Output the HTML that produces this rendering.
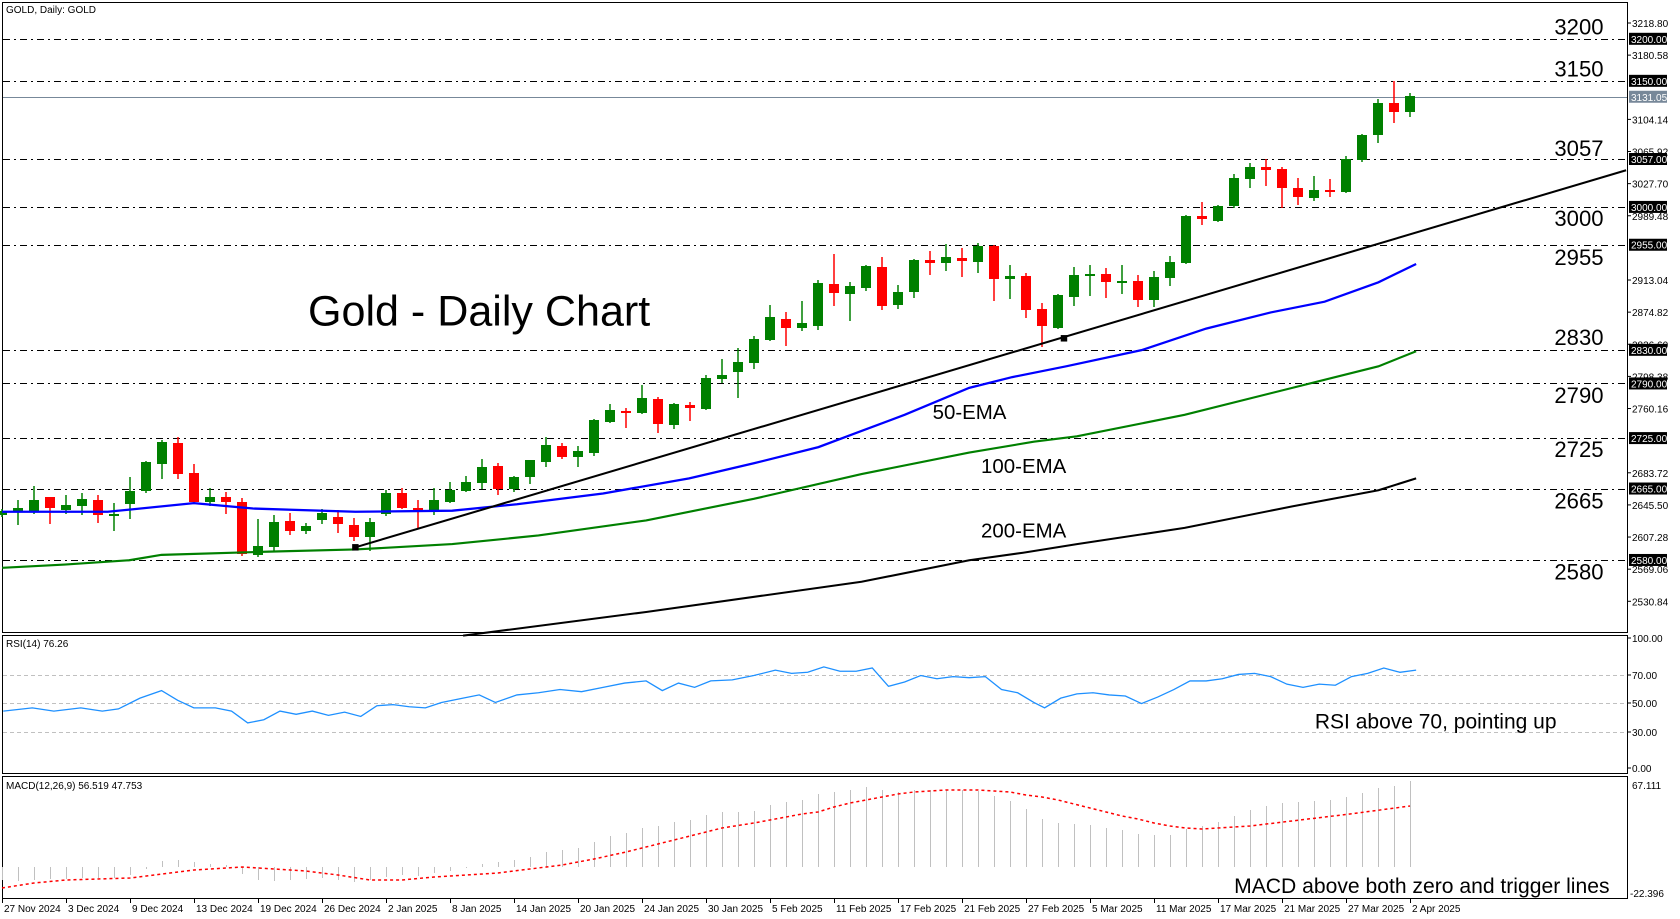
<!DOCTYPE html>
<html><head><meta charset="utf-8"><style>
html,body{margin:0;padding:0;background:#fff;width:1680px;height:919px;overflow:hidden}
svg{display:block}
text{font-family:"Liberation Sans",sans-serif}
</style></head><body>
<svg id="s" width="1680" height="919" viewBox="0 0 1680 919" xmlns="http://www.w3.org/2000/svg"></svg>
<script>
const S=document.getElementById('s');let h='';
const Y=p=>38.8+(3200-p)*0.8406;
h+='<rect x="2.5" y="2.5" width="1625" height="630" fill="none" stroke="#000"/>';
h+='<rect x="2.5" y="635.5" width="1625" height="138" fill="none" stroke="#000"/>';
h+='<rect x="2.5" y="776.5" width="1625" height="122" fill="none" stroke="#000"/>';
h+='<text x="6" y="13" font-size="10">GOLD, Daily:  GOLD</text>';
const lv=[3200,3150,3057,3000,2955,2830,2790,2725,2665,2580];
lv.forEach(p=>{const y=Math.round(Y(p))+0.5;h+=`<line x1="3" x2="1627" y1="${y}" y2="${y}" stroke="#000" stroke-dasharray="7,4,2,4"/>`;});
const yc=Math.round(Y(3131.05))+0.5;
h+=`<line x1="3" x2="1627" y1="${yc}" y2="${yc}" stroke="#778899"/>`;
const ax=[3218.80,3180.58,3104.14,3065.92,3027.70,2989.48,2913.04,2874.82,2836.60,2798.38,2760.16,2683.72,2645.50,2607.28,2569.06,2530.84];
ax.forEach(p=>{const y=Y(p);h+=`<line x1="1627" x2="1631" y1="${y}" y2="${y}" stroke="#000"/><text x="1632" y="${y+4}" font-size="10">${p.toFixed(2)}</text>`;});
lv.forEach(p=>{const y=Y(p);h+=`<rect x="1629" y="${y-6}" width="38" height="12" fill="#000"/><text x="1631" y="${y+4}" font-size="10" fill="#fff">${p.toFixed(2)}</text>`;});
h+=`<rect x="1629" y="${Y(3131.05)-6}" width="38" height="12" fill="#778899"/><text x="1631" y="${Y(3131.05)+4}" font-size="10" fill="#fff">3131.05</text>`;
[[100,638],[70,675],[50,703],[30,732],[0,768]].forEach(([v,y])=>{
 if(v>0&&v<100)h+=`<line x1="3" x2="1627" y1="${y}.5" y2="${y}.5" stroke="#c0c0c0" stroke-dasharray="4,3"/>`;
 h+=`<line x1="1627" x2="1631" y1="${y}" y2="${y}" stroke="#000"/><text x="1632" y="${y+4}" font-size="10">${v.toFixed(2)}</text>`;});
h+='<text x="6" y="647" font-size="10">RSI(14) 76.26</text>';
h+='<text x="1632" y="789" font-size="10">67.111</text><text x="1630" y="897" font-size="10">-22.396</text>';
h+='<text x="6" y="789" font-size="10">MACD(12,26,9) 56.519 47.753</text>';
const C=[[511,515,509,517,1],[508,512,500,525,1],[500,511,486,514,1],[497,508,497,524,0],[505,510,495,514,1],[499,506,493,515,1],[500,515,495,523,0],[514,514,503,531,1],[491,504,477,519,1],[462,491,461,493,1],[442,464,440,479,1],[443,474,437,479,0],[473,502,464,504,0],[497,502,488,506,1],[497,502,492,514,0],[502,554,498,556,0],[546,555,519,557,1],[522,547,515,551,1],[521,531,513,535,0],[526,531,523,534,1],[513,520,509,524,1],[517,524,510,533,0],[525,537,518,541,0],[522,537,518,551,1],[493,514,490,516,1],[493,508,488,509,0],[508,512,500,529,0],[500,512,488,515,1],[490,502,482,503,1],[482,491,476,492,1],[467,483,459,489,1],[466,489,463,495,0],[477,489,476,492,1],[460,477,460,484,1],[445,462,437,467,1],[446,457,443,459,0],[451,457,446,467,1],[420,453,419,456,1],[410,422,404,423,1],[411,413,408,428,0],[398,413,385,414,1],[399,424,397,433,0],[404,425,403,429,1],[405,408,402,421,0],[378,409,375,410,1],[375,379,359,383,1],[362,372,348,398,1],[339,363,336,369,1],[317,340,305,341,1],[319,328,312,346,0],[323,328,301,331,1],[283,326,280,330,1],[284,293,254,306,0],[286,294,282,321,1],[266,288,265,291,1],[267,306,257,310,0],[292,305,285,309,1],[260,292,259,298,1],[260,263,251,275,0],[257,263,244,271,1],[258,261,248,277,0],[246,262,243,273,1],[246,279,245,301,0],[276,279,265,299,1],[276,310,273,318,0],[309,326,303,347,0],[295,328,294,329,1],[275,297,267,306,1],[274,276,265,296,1],[274,282,268,298,0],[281,281,265,294,1],[281,300,275,307,0],[277,300,271,307,1],[262,278,256,286,1],[216,263,215,264,1],[216,219,202,225,0],[206,221,205,222,1],[178,206,174,208,1],[167,179,163,188,1],[167,170,159,186,0],[169,188,167,208,0],[188,197,178,205,0],[190,198,176,201,1],[190,190,179,197,0],[159,192,156,193,1],[135,160,134,162,1],[103,135,99,143,1],[103,112,81,123,0],[96,112,93,117,1]];
C.forEach((c,i)=>{const x=2+16*i,col=c[4]?'#008000':'#ff0000';
 h+=`<line x1="${x}" x2="${x}" y1="${c[2]}" y2="${c[3]}" stroke="${col}" stroke-width="1.5"/>`;
 h+=`<rect x="${x-5}" y="${c[0]}" width="10" height="${Math.max(2,c[1]-c[0])}" fill="${col}"/>`;});
let g='';
const pl=(pts,col,w,extra='')=>`<polyline fill="none" stroke="${col}" stroke-width="${w}" ${extra} points="${pts.map(p=>p.join(',')).join(' ')}"/>`;
g+=pl([[2,475],[100,475],[180,467],[235,472],[330,475],[420,474],[480,468],[560,458],[640,444],[700,430],[760,415],[800,400],[840,385],[900,360],[940,350],[990,340],[1060,325],[1120,305],[1180,290],[1230,280],[1280,262],[1315,245]],'#0000ff',2.1);
g+=pl([[2,527],[60,524],[120,520],[150,515],[250,512],[330,510],[420,505],[500,497],[600,483],[700,463],[800,440],[900,420],[960,410],[1000,405],[1100,385],[1200,360],[1280,340],[1315,326]],'#008000',2);
g+=pl([[430,590],[600,568],[800,540],[900,520],[950,513],[1000,505],[1100,490],[1200,470],[1280,455],[1315,444]],'#000',1.9);
g+=pl([[330,508],[1510,158]],'#000',1.9);
g+='<rect x="327" y="505" width="6" height="6"/><rect x="985" y="311" width="6" height="6"/>';
g+=pl([[3,660],[30,657],[50,660],[75,657],[95,660],[110,658],[130,648],[150,641],[165,650],[180,657],[200,657],[215,660],[230,671],[245,668],[260,660],[275,663],[290,660],[305,664],[320,661],[335,665],[350,655],[365,654],[380,656],[395,657],[410,652],[430,648],[445,645],[460,652],[480,645],[500,643],[520,640],[540,642],[560,638],[580,634],[600,632],[615,641],[630,634],[645,638],[660,632],[680,631],[700,627],[720,622],[735,625],[750,624],[765,619],[780,623],[795,623],[810,620],[825,637],[840,633],[855,627],[870,630],[885,628],[900,629],[915,628],[930,640],[945,643],[960,652],[970,657],[985,648],[1000,644],[1015,643],[1030,645],[1045,646],[1060,653],[1075,647],[1090,640],[1105,632],[1120,632],[1135,630],[1150,626],[1165,625],[1180,628],[1195,635],[1210,638],[1225,635],[1240,636],[1255,628],[1270,625],[1285,620],[1300,624],[1315,622]],'#1e90ff',1.2);
g+='<text x="286" y="302" font-size="40">Gold - Daily Chart</text>';
[['3200',32],['3150',71],['3057',145],['3000',210],['2955',246],['2830',320],['2790',374],['2725',424],['2665',472],['2580',538]].forEach(([t,y])=>g+=`<text x="1489" y="${y}" font-size="20.5" text-anchor="end">${t}</text>`);
g+='<text x="866" y="389" font-size="19">50-EMA</text><text x="911" y="439" font-size="19">100-EMA</text><text x="911" y="499" font-size="19">200-EMA</text>';
g+='<text x="1221" y="676" font-size="19.5">RSI above 70, pointing up</text><text x="1146" y="829" font-size="19.6">MACD above both zero and trigger lines</text>';
h+=`<g transform="scale(1.0769,1.0774)">${g}</g>`;
const B=[880,881,880,879,879,878,878,878,875,869,861,860,862,864,865,874,880,881,880,879,878,880,882,880,877,875,876,873,871,868,864,862,860,857,852,850,848,842,836,833,828,826,822,820,815,812,812,811,805,802,800,794,792,790,787,790,792,790,790,790,790,791,796,801,809,819,823,824,825,828,830,834,835,835,829,826,822,816,810,806,803,802,801,800,797,793,788,786,781];
B.forEach((b,i)=>{const x=2+16*i+0.5;h+=`<line x1="${x}" x2="${x}" y1="867" y2="${b}" stroke="#c0c0c0"/>`;});
const sp=[[2,888],[34,883],[66,880],[98,879],[130,878],[162,874],[194,870],[226,868],[242,867],[274,869],[306,871],[338,875],[370,880],[402,880],[434,877],[450,876],[466,875],[498,873],[530,869],[562,865],[594,859],[626,852],[658,844],[690,836],[722,828],[754,823],[770,820],[786,817],[802,814],[818,812],[834,807],[850,803],[866,800],[882,797],[898,794],[914,792],[930,791],[946,790],[962,790],[978,790],[994,791],[1010,792],[1026,795],[1042,797],[1058,800],[1074,804],[1090,808],[1106,812],[1122,816],[1138,819],[1154,823],[1170,826],[1186,828],[1202,829],[1250,826],[1300,820],[1350,814],[1410,806]];
h+=pl(sp,'#ff0000',1.5,'stroke-dasharray="3,3"');
const D=['27 Nov 2024','3 Dec 2024','9 Dec 2024','13 Dec 2024','19 Dec 2024','26 Dec 2024','2 Jan 2025','8 Jan 2025','14 Jan 2025','20 Jan 2025','24 Jan 2025','30 Jan 2025','5 Feb 2025','11 Feb 2025','17 Feb 2025','21 Feb 2025','27 Feb 2025','5 Mar 2025','11 Mar 2025','17 Mar 2025','21 Mar 2025','27 Mar 2025','2 Apr 2025'];
D.forEach((t,i)=>{const x=2+64*i;h+=`<line x1="${x+0.5}" x2="${x+0.5}" y1="899" y2="903" stroke="#000"/><text x="${x+2}" y="912" font-size="10">${t}</text>`;});
S.innerHTML=h;
</script>
</body></html>
